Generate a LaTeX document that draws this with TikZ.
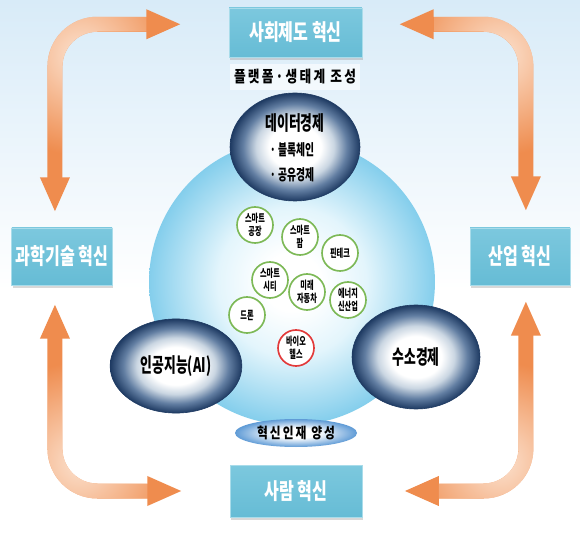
\documentclass[tikz,border=0pt]{standalone}
\usepackage{fontspec}
\setmainfont{Noto Sans CJK KR}
\newfontfamily\krtall{Noto Sans CJK KR}[FakeStretch=0.72]
\newfontfamily\krtight{Noto Sans CJK KR}[FakeStretch=0.64]
\newfontfamily\krspread{Noto Sans CJK KR}[FakeStretch=0.8,LetterSpace=14]
\usetikzlibrary{shapes.geometric,arrows.meta,shadows,fadings}

\definecolor{boxtop}{HTML}{7CC8DE}
\definecolor{boxbot}{HTML}{66BCD5}
\definecolor{boxrim}{HTML}{A9DCEA}
\definecolor{orbdark}{HTML}{1E3A62}
\definecolor{orbmid}{HTML}{627EA2}
\definecolor{orbsoft}{HTML}{CAD6E2}
\definecolor{hubblue}{HTML}{84CEEC}
\definecolor{hubpale}{HTML}{E3F5FC}
\definecolor{talentblue}{HTML}{5F9BD6}
\definecolor{seedgreen}{HTML}{7DB957}
\definecolor{seedred}{HTML}{E23A3A}
\definecolor{flowdark}{HTML}{EF8C4E}
\definecolor{flowlight}{HTML}{FCE2CF}
\definecolor{skyback}{HTML}{D8EBF8}

\pgfdeclareradialshading{orbshade}{\pgfpoint{0bp}{0bp}}{color(0bp)=(white); color(10bp)=(white); color(15bp)=(orbsoft); color(20bp)=(orbmid); color(25bp)=(orbdark); color(50bp)=(orbdark)}
\pgfdeclareradialshading{hubshade}{\pgfpoint{0bp}{0bp}}{color(0bp)=(white); color(5bp)=(white); color(13bp)=(hubpale); color(25bp)=(hubblue); color(50bp)=(hubblue)}
\pgfdeclareradialshading{talentshade}{\pgfpoint{0bp}{0bp}}{color(0bp)=(white); color(9bp)=(white); color(25bp)=(talentblue); color(50bp)=(talentblue)}
\tikzfading[name=glowfade, inner color=transparent!0, outer color=transparent!100]

\tikzset{
  pillar/.style={rectangle, draw=boxrim, line width=0.6pt, top color=boxtop, bottom color=boxbot,
    text=white, font=\krtall\bfseries\fontsize{19}{21}\selectfont,
    drop shadow={shadow xshift=0.8pt, shadow yshift=-2.5pt, opacity=0.3, fill=gray}},
  orb/.style={ellipse, shade, shading=orbshade, draw=orbdark, line width=0.5pt, inner sep=0pt},
  orbtitle/.style={font=\krtight\bfseries\fontsize{17}{19}\selectfont, text=black},
  orbitem/.style={font=\krtight\bfseries\fontsize{13}{14}\selectfont, text=black},
  seed/.style={circle, draw=seedgreen, line width=1.4pt, fill=white, minimum size=30.6pt,
    inner sep=0pt, align=center, font=\krtight\bfseries\fontsize{9.5}{11}\selectfont},
  flow/.style={draw=flowdark, line width=12.75pt, rounded corners=36pt,
    {Triangle[width=23pt,length=30pt]}-{Triangle[width=23pt,length=30pt]}},
  glowstroke/.style={draw=flowlight, line width=12.75pt, rounded corners=36pt,
    path fading=glowfade, fit fading=false, fading transform={shift={#1}, scale=3.4}},
}

\begin{document}
\begin{tikzpicture}[x=0.85pt,y=-0.85pt]
  % fond
  \shade[top color=skyback, bottom color=white] (0,0) rectangle (580,290);
  \fill[white] (0,290) rectangle (580,538);
  \useasboundingbox (0,0) rectangle (580,538);

  % les quatre piliers
  \node[pillar, minimum width=113pt, minimum height=41.7pt] (soc) at (295.5,32.5) {사회제도 혁신};
  \node[pillar, minimum width=85pt, minimum height=48.5pt] (sci) at (62,256.5) {과학기술 혁신};
  \node[pillar, minimum width=85pt, minimum height=48.5pt] (ind) at (520,256.5) {산업 혁신};
  \node[pillar, minimum width=112.2pt, minimum height=44.2pt] (ppl) at (296,491) {사람 혁신};

  \node[fill=white, fill opacity=0.6, text opacity=1, minimum width=107pt, minimum height=22pt,
    font=\krspread\bfseries\fontsize{13.5}{15}\selectfont] (platform) at (295,77) {플랫폼·생태계 조성};

  % le grand disque
  \node[circle, shade, shading=hubshade, minimum size=243pt] (hub) at (292,282) {};

  % les petits domaines
  \node[seed] (factory) at (255,225) {스마트\\공장};
  \node[seed] (farm) at (300,237) {스마트\\팜};
  \node[seed] (fintech) at (340,253) {핀테크};
  \node[seed] (city) at (270,280) {스마트\\시티};
  \node[seed] (car) at (307,292) {미래\\자동차};
  \node[seed] (energy) at (348,300) {에너지\\신산업};
  \node[seed] (drone) at (247,315) {드론};
  \node[seed, draw=seedred] (bio) at (296,348) {바이오\\헬스};

  % les trois orbes
  \node[orb, minimum width=110.5pt, minimum height=91.8pt] (data) at (295,147) {};
  \node[orbtitle] (datatitle) at (295,123) {데이터경제};
  \node[orbitem] (chain) at (292,150) {· 블록체인};
  \node[orbitem] (share) at (292,175) {· 공유경제};
  \node[orb, orbtitle, minimum width=112pt, minimum height=80pt] (ai) at (176,366) {인공지능(AI)};
  \node[orb, orbtitle, minimum width=108.8pt, minimum height=88.4pt] (hydro) at (416,357) {수소경제};

  \node[ellipse, shade, shading=talentshade, minimum width=103.7pt, minimum height=23.8pt, inner sep=0pt,
    font=\krspread\bfseries\fontsize{12.5}{14}\selectfont] (talent) at (296,433) {혁신인재 양성};

  % flèches entre les piliers
  \draw[flow, shorten <=12.75pt, shorten >=40pt] ([xshift=-6pt]sci.north) |- ([yshift=7pt]soc.west);
  \draw[flow, shorten <=13.6pt, shorten >=30.6pt] ([xshift=5pt]ind.north) |- ([yshift=7pt]soc.east);
  \draw[flow, shorten <=15.3pt, shorten >=40pt] ([xshift=-6pt]sci.south) |- (ppl.west);
  \draw[flow, shorten <=12.75pt, shorten >=35pt] ([xshift=5pt]ind.south) |- (ppl.east);

  % reflets clairs dans les coudes
  \draw[glowstroke={(80,55)}, shorten <=43pt, shorten >=70pt] ([xshift=-6pt]sci.north) |- ([yshift=7pt]soc.west);
  \draw[glowstroke={(500,55)}, shorten <=44pt, shorten >=61pt] ([xshift=5pt]ind.north) |- ([yshift=7pt]soc.east);
  \draw[glowstroke={(80,462)}, shorten <=45pt, shorten >=70pt] ([xshift=-6pt]sci.south) |- (ppl.west);
  \draw[glowstroke={(500,462)}, shorten <=43pt, shorten >=65pt] ([xshift=5pt]ind.south) |- (ppl.east);
\end{tikzpicture}
\end{document}
